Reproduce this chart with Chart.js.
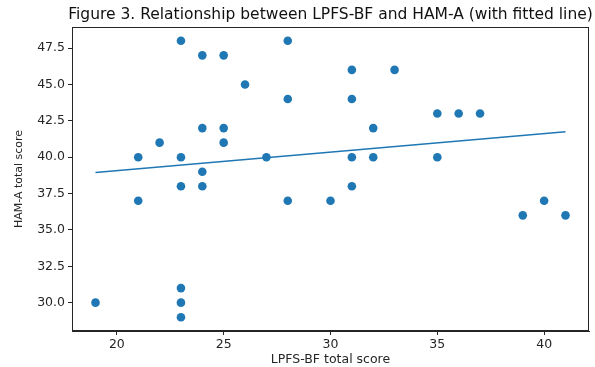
<!DOCTYPE html>
<html>
<head>
<meta charset="utf-8">
<script src="https://cdn.jsdelivr.net/npm/chart.js@4/dist/chart.umd.min.js"></script>
<style>
  html, body { margin: 0; padding: 0; background: #fff; }
  #wrap { width: 595px; height: 367px; }
</style>
</head>
<body>
<div id="wrap"><canvas id="chart" width="595" height="367"></canvas></div>
<script>
// LPFS-BF total score (x) and HAM-A total score (y)
const lpfsScores = [19, 21, 21, 22, 23, 23, 23, 23, 23, 23, 24, 24, 24, 24, 25, 25, 25, 26, 27,
  28, 28, 28, 30, 31, 31, 31, 31, 32, 32, 33, 35, 35, 36, 37, 39, 40, 41];
const hamaScores = [30, 40, 37, 41, 48, 40, 38, 31, 30, 29, 47, 42, 39, 38, 47, 42, 41, 45, 40,
  48, 44, 37, 37, 46, 44, 40, 38, 42, 40, 46, 43, 40, 43, 43, 36, 37, 36];

// fitted line end points, as drawn
const fitX = [19, 41];
const fitY = [38.95, 41.75];

const xTicks = [20, 25, 30, 35, 40];
const yTicks = [30, 32.5, 35, 37.5, 40, 42.5, 45, 47.5];

const TITLE = 'Figure 3. Relationship between LPFS-BF and HAM-A (with fitted line)';
const BLUE = '#1f77b4';
const INK = '#262626';
const FONT = 'DejaVu Sans';

// full box around the plot, like matplotlib spines, and the title centred over the plot area
const frame = {
  id: 'frame',
  afterDraw(chart) {
    const { ctx, chartArea: a } = chart;
    ctx.save();
    ctx.strokeStyle = INK;
    ctx.lineWidth = 1;
    ctx.strokeRect(a.left + 0.5, a.top + 0.5, a.right - a.left - 1, a.bottom - a.top - 1);
    ctx.fillStyle = '#111';
    ctx.font = `15.5px "${FONT}"`;
    ctx.textAlign = 'center';
    ctx.textBaseline = 'middle';
    ctx.fillText(TITLE, (a.left + a.right) / 2, 15);
    ctx.restore();
  },
};

const axisCommon = {
  type: 'linear',
  grid: { drawOnChartArea: false, drawTicks: true, tickLength: 4, color: INK },
  border: { display: true, color: INK },
};

new Chart(document.getElementById('chart'), {
  type: 'scatter',
  data: {
    datasets: [
      {
        label: 'data',
        data: lpfsScores.map((x, i) => ({ x, y: hamaScores[i] })),
        backgroundColor: BLUE,
        borderColor: BLUE,
        pointRadius: 4.3,
        pointBorderWidth: 0,
      },
      {
        type: 'line',
        label: 'fit',
        data: fitX.map((x, i) => ({ x, y: fitY[i] })),
        borderColor: BLUE,
        borderWidth: 1.5,
        pointRadius: 0,
        fill: false,
      },
    ],
  },
  options: {
    responsive: false,
    animation: false,
    layout: { padding: { left: 0, right: 6, top: 27, bottom: 0 } },
    plugins: {
      legend: { display: false },
      tooltip: { enabled: false },
      title: { display: false },
    },
    scales: {
      x: {
        ...axisCommon,
        min: 17.9,
        max: 42.1,
        afterBuildTicks: s => { s.ticks = xTicks.map(v => ({ value: v })); },
        afterFit: s => { s.height = 36; },
        ticks: { color: INK, font: { family: FONT, size: 12.5 }, padding: 2, maxRotation: 0 },
        title: {
          display: true,
          text: 'LPFS-BF total score',
          color: INK,
          font: { family: FONT, size: 12.5 },
          padding: { top: 0, bottom: 0 },
        },
      },
      y: {
        ...axisCommon,
        min: 28.05,
        max: 48.95,
        afterBuildTicks: s => { s.ticks = yTicks.map(v => ({ value: v })); },
        afterFit: s => { s.width = 72; },
        ticks: {
          color: INK,
          font: { family: FONT, size: 12.5 },
          padding: 3,
          callback: v => v.toFixed(1),
        },
        title: {
          display: true,
          text: 'HAM-A total score',
          color: INK,
          font: { family: FONT, size: 11 },
          padding: { top: 13, bottom: 0 },
        },
      },
    },
  },
  plugins: [frame],
});
</script>
</body>
</html>
